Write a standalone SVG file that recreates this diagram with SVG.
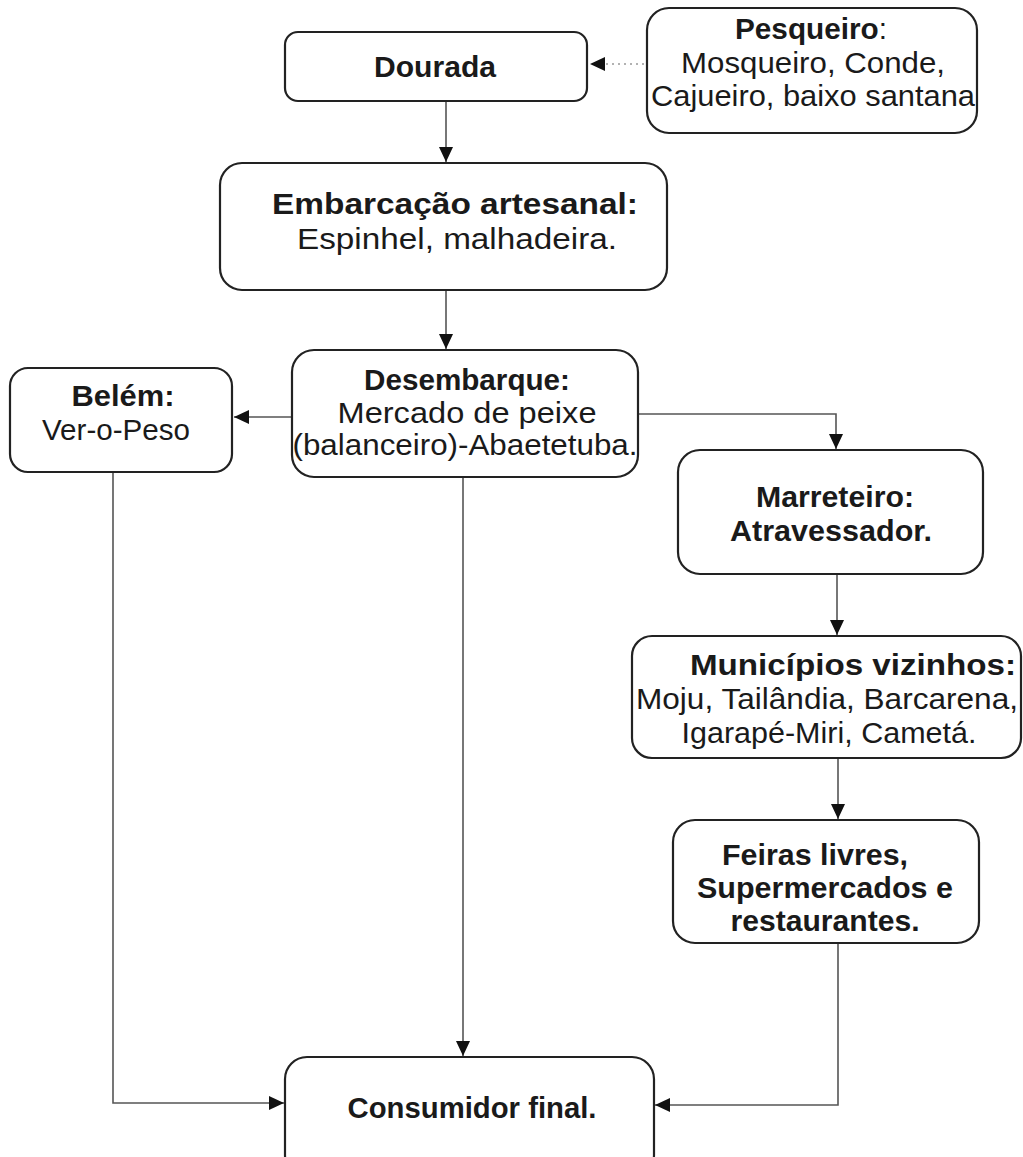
<svg xmlns="http://www.w3.org/2000/svg" width="1023" height="1157" viewBox="0 0 1023 1157">
<style>
.box{fill:#fff;stroke:#222;stroke-width:2.2}
.t{font-family:"Liberation Sans",Arial,sans-serif;font-size:29px;fill:#1a1a1a;text-anchor:middle}
.b{font-weight:bold}
.c{fill:none;stroke:#555;stroke-width:1.6}
.d{fill:none;stroke:#999;stroke-width:1.6;stroke-dasharray:2 4}
</style>
<defs>
<marker id="ah" markerUnits="userSpaceOnUse" markerWidth="16" markerHeight="16" viewBox="0 0 16 16" refX="15" refY="8" orient="auto">
<path d="M0,1 L15,8 L0,15 Z" fill="#111"/>
</marker>
</defs>
<rect width="1023" height="1157" fill="#fff"/>
<g id="connectors">
<line class="d" x1="644" y1="64" x2="590" y2="64" marker-end="url(#ah)"/>
<line class="c" x1="446" y1="101" x2="446" y2="162" marker-end="url(#ah)"/>
<line class="c" x1="446" y1="290" x2="446" y2="349" marker-end="url(#ah)"/>
<line class="c" x1="292" y1="417" x2="234" y2="417" marker-end="url(#ah)"/>
<polyline class="c" points="638,414 836,414 836,449" marker-end="url(#ah)"/>
<line class="c" x1="837" y1="574" x2="837" y2="635" marker-end="url(#ah)"/>
<line class="c" x1="838" y1="758" x2="838" y2="819" marker-end="url(#ah)"/>
<line class="c" x1="463" y1="477" x2="463" y2="1056" marker-end="url(#ah)"/>
<polyline class="c" points="113,472 113,1103 284,1103" marker-end="url(#ah)"/>
<polyline class="c" points="838,943 838,1105 655,1105" marker-end="url(#ah)"/>
</g>
<g id="dourada">
<rect class="box" x="285" y="32" width="302" height="69" rx="13"/>
<text class="t b" x="435" y="77" textLength="122" lengthAdjust="spacingAndGlyphs">Dourada</text>
</g>
<g id="pesqueiro">
<rect class="box" x="647" y="8" width="330" height="125" rx="22"/>
<text class="t" x="811" y="39" textLength="152" lengthAdjust="spacingAndGlyphs"><tspan class="b">Pesqueiro</tspan>:</text>
<text class="t" x="813" y="73" textLength="264" lengthAdjust="spacingAndGlyphs">Mosqueiro, Conde,</text>
<text class="t" x="813" y="106" textLength="324" lengthAdjust="spacingAndGlyphs">Cajueiro, baixo santana</text>
</g>
<g id="embarcacao">
<rect class="box" x="220" y="163" width="447" height="127" rx="22"/>
<text class="t b" x="455" y="214" textLength="366" lengthAdjust="spacingAndGlyphs">Embarcação artesanal:</text>
<text class="t" x="457" y="249" textLength="320" lengthAdjust="spacingAndGlyphs">Espinhel, malhadeira.</text>
</g>
<g id="desembarque">
<rect class="box" x="292" y="350" width="346" height="127" rx="22"/>
<text class="t b" x="467" y="390" textLength="206" lengthAdjust="spacingAndGlyphs">Desembarque:</text>
<text class="t" x="467" y="423" textLength="259" lengthAdjust="spacingAndGlyphs">Mercado de peixe</text>
<text class="t" x="465" y="455" textLength="345" lengthAdjust="spacingAndGlyphs">(balanceiro)-Abaetetuba.</text>
</g>
<g id="belem">
<rect class="box" x="10" y="368" width="222" height="104" rx="18"/>
<text class="t b" x="123" y="406" textLength="103" lengthAdjust="spacingAndGlyphs">Belém:</text>
<text class="t" x="116" y="440" textLength="148" lengthAdjust="spacingAndGlyphs">Ver-o-Peso</text>
</g>
<g id="marreteiro">
<rect class="box" x="678" y="450" width="305" height="124" rx="22"/>
<text class="t b" x="835" y="507" textLength="158" lengthAdjust="spacingAndGlyphs">Marreteiro:</text>
<text class="t b" x="831" y="541" textLength="202" lengthAdjust="spacingAndGlyphs">Atravessador.</text>
</g>
<g id="municipios">
<rect class="box" x="632" y="636" width="389" height="122" rx="20"/>
<text class="t b" x="853" y="675" textLength="326" lengthAdjust="spacingAndGlyphs">Municípios vizinhos:</text>
<text class="t" x="827" y="709" textLength="382" lengthAdjust="spacingAndGlyphs">Moju, Tailândia, Barcarena,</text>
<text class="t" x="829" y="743" textLength="295" lengthAdjust="spacingAndGlyphs">Igarapé-Miri, Cametá.</text>
</g>
<g id="feiras">
<rect class="box" x="673" y="820" width="306" height="123" rx="22"/>
<text class="t b" x="815" y="865" textLength="186" lengthAdjust="spacingAndGlyphs">Feiras livres,</text>
<text class="t b" x="825" y="898" textLength="256" lengthAdjust="spacingAndGlyphs">Supermercados e</text>
<text class="t b" x="825" y="931" textLength="189" lengthAdjust="spacingAndGlyphs">restaurantes.</text>
</g>
<g id="consumidor">
<rect class="box" x="285" y="1057" width="369" height="120" rx="22"/>
<text class="t b" x="472" y="1118" textLength="249" lengthAdjust="spacingAndGlyphs">Consumidor final.</text>
</g>
</svg>
